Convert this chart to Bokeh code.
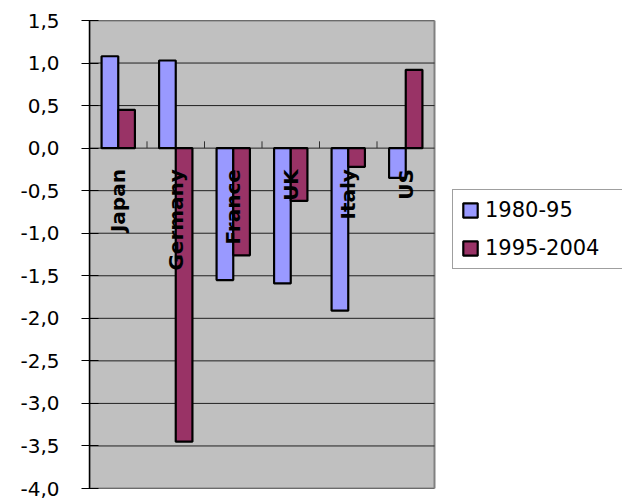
from bokeh.plotting import figure
from bokeh.models import Range1d, FixedTicker, Legend, LegendItem, ColumnDataSource
from bokeh.core.properties import value
from bokeh.embed import file_html
from bokeh.resources import INLINE

countries = ["Japan", "Germany", "France", "UK", "Italy", "US"]
series_names = ["1980-95", "1995-2004"]
v_1980_95 = [1.08, 1.03, -1.55, -1.59, -1.91, -0.35]
v_1995_2004 = [0.45, -3.45, -1.26, -0.62, -0.22, 0.92]
y_ticks = [-4.0, -3.5, -3.0, -2.5, -2.0, -1.5, -1.0, -0.5, 0.0, 0.5, 1.0, 1.5]
y_tick_labels = ["-4,0", "-3,5", "-3,0", "-2,5", "-2,0", "-1,5", "-1,0", "-0,5",
                 "0,0", "0,5", "1,0", "1,5"]
colors = ["#9999FF", "#993366"]

n = len(countries)
bar_w = 0.29
centers = [i + 0.5 for i in range(n)]
y_min, y_max = y_ticks[0], y_ticks[-1]

W, H = 622, 500
left_b, top_b, bot_b = 89, 20, 12
plot_px = 345  # pixel width of the grey category area
frame_px = W - left_b
x_end = n * frame_px / plot_px

p = figure(width=W, height=H, output_backend="svg", toolbar_location=None,
           x_range=Range1d(0, x_end), y_range=Range1d(y_min, y_max),
           min_border_left=left_b, min_border_right=0, min_border_top=top_b,
           min_border_bottom=bot_b)
p.border_fill_color = "white"
p.background_fill_color = "white"
p.outline_line_color = None
p.xaxis.visible = False
p.xgrid.visible = False
p.ygrid.visible = False

# grey plot area with its border
p.quad(left=[0], right=[n], bottom=[y_min], top=[y_max],
       fill_color="#C0C0C0", line_color="#808080", line_width=2)
# horizontal gridlines
p.segment(x0=[0] * len(y_ticks), y0=y_ticks, x1=[n] * len(y_ticks), y1=y_ticks,
          line_color="#202020", line_width=1)

ya = p.yaxis[0]
ya.ticker = FixedTicker(ticks=y_ticks)
ya.major_label_overrides = {t: l for t, l in zip(y_ticks, y_tick_labels)}
ya.major_label_text_font = "DejaVu Sans"
ya.major_label_text_font_size = "20px"
ya.major_label_text_color = "black"
ya.major_label_standoff = 22
ya.major_tick_out = 8
ya.major_tick_in = 9
ya.major_tick_line_color = "black"
ya.minor_tick_line_color = None
ya.axis_line_color = "black"
ya.axis_line_width = 1.5

# category tick marks along the zero line
bounds = list(range(1, n))
p.segment(x0=bounds, y0=[0] * len(bounds), x1=bounds, y1=[0.08] * len(bounds),
          line_color="#303030", line_width=1)

src = ColumnDataSource(dict(
    x1=[c - bar_w / 2 for c in centers],
    x2=[c + bar_w / 2 for c in centers],
    a=v_1980_95, b=v_1995_2004))
r1 = p.vbar(x="x1", top="a", bottom=0, width=bar_w, source=src,
            fill_color=colors[0], line_color="black", line_width=2.2)
r2 = p.vbar(x="x2", top="b", bottom=0, width=bar_w, source=src,
            fill_color=colors[1], line_color="black", line_width=2.2)

p.text(x=centers, y=[0] * n, text=countries, angle=1.5708,
       text_align="right", text_baseline="middle", y_offset=21,
       text_font=value("DejaVu Sans"), text_font_style="bold",
       text_font_size="20px", text_color="black")

legend = Legend(items=[LegendItem(label=series_names[0], renderers=[r1]),
                       LegendItem(label=series_names[1], renderers=[r2])],
                location=(363, 219))
legend.label_text_font = "DejaVu Sans"
legend.label_text_font_size = "21px"
legend.label_text_color = "black"
legend.glyph_width = 18
legend.glyph_height = 18
legend.label_height = 20
legend.label_width = 129
legend.label_standoff = 6
legend.spacing = 14
legend.padding = 8
legend.margin = 0
legend.border_line_color = "#404040"
legend.border_line_width = 1
legend.background_fill_color = "white"
legend.background_fill_alpha = 1.0
p.add_layout(legend, "center")

open("out.html", "w").write(file_html(p, INLINE))
